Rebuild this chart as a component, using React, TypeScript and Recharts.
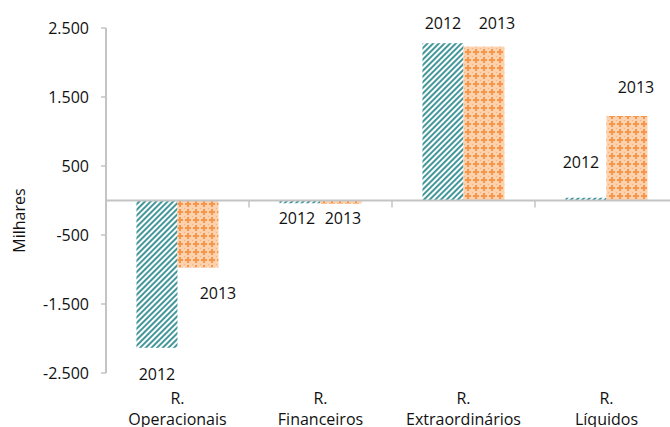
import React from 'react';
import { BarChart, Bar, XAxis, YAxis, ReferenceLine } from 'recharts';

const categories = ['R. Operacionais', 'R. Financeiros', 'R. Extraordinários', 'R. Líquidos'];
const values2012 = [-2135, -40, 2280, 40];
const values2013 = [-970, -45, 2230, 1225];
const seriesNames = ['2012', '2013'];
const yTicks = [-2500, -1500, -500, 500, 1500, 2500];

// label placement tweaks (px), relative to the end of each bar
const labelDx2012 = [0, -3, 0, -5];
const labelDy2012 = [26, 15, -20, -36];
const labelDx2013 = [20, 2, 13, 9];
const labelDy2013 = [26, 14, -24, -29];

const data = categories.map((c, i) => ({ name: c, y2012: values2012[i], y2013: values2013[i] }));

const FONT = "'Open Sans', sans-serif";
const TEXT = '#111111';
const AXIS = '#c4c4c4';

const fmt = (v: number) => {
  const s = Math.abs(v).toString().replace(/\B(?=(\d{3})+(?!\d))/g, '.');
  return (v < 0 ? '-' : '') + s;
};

const makeShape = (name: string, fill: string, vals: number[], dxs: number[], dys: number[]) => (p: any) => {
  const { x, y, width, height, index } = p;
  const top = Math.min(y, y + height);
  const h = Math.abs(height);
  const v = vals[index];
  const end = v >= 0 ? top : top + h;
  return (
    <g>
      <rect x={x} y={top} width={width} height={h} fill={fill} />
      <text
        x={x + width / 2 + dxs[index]}
        y={end + dys[index]}
        textAnchor="middle"
        dominantBaseline="central"
        fontSize={16}
        fontFamily={FONT}
        fill={TEXT}
      >
        {name}
      </text>
    </g>
  );
};

const CatTick = (p: any) => {
  const { x, y, payload } = p;
  const label: string = payload.value;
  const i = label.indexOf(' ');
  const l1 = label.slice(0, i);
  const l2 = label.slice(i + 1);
  return (
    <text x={x} y={y} textAnchor="middle" fontSize={16} fontFamily={FONT} fill={TEXT}>
      <tspan x={x} dy={23}>{l1}</tspan>
      <tspan x={x} dy={21}>{l2}</tspan>
    </text>
  );
};

const ZeroLine = (p: any) => {
  const { x1, x2, y1 } = p;
  const n = categories.length;
  const step = (x2 - x1) / n;
  const marks = [];
  for (let i = 1; i <= n; i++) {
    const xx = x1 + i * step;
    marks.push(<line key={i} x1={xx} x2={xx} y1={y1} y2={y1 + 7} stroke={AXIS} strokeWidth={1.5} />);
  }
  return (
    <g>
      <line x1={x1} x2={x2} y1={y1} y2={y1} stroke={AXIS} strokeWidth={2} />
      {marks}
    </g>
  );
};

const YLabel = (p: any) => {
  const vb = p.viewBox || {};
  const cx = (vb.x || 0) + 19;
  const cy = (vb.y || 0) + (vb.height || 0) / 2 + 20;
  return (
    <text x={cx} y={cy} transform={`rotate(-90, ${cx}, ${cy})`} textAnchor="middle" dominantBaseline="central" fontSize={16} fontFamily={FONT} fill={TEXT}>
      Milhares
    </text>
  );
};

export default function App() {
  return (
    <div style={{ position: 'absolute', left: 0, top: 0, width: 670, height: 427, overflow: 'hidden', background: '#fff' }}>
      <BarChart
        width={678}
        height={427}
        data={data}
        margin={{ top: 28, right: 0, bottom: 0, left: 0 }}
        barCategoryGap="21.3%"
        barGap={0}
        style={{ fontFamily: FONT }}
      >
        <defs>
          <pattern id="teal" width="4" height="4" patternUnits="userSpaceOnUse" patternTransform="rotate(45)">
            <rect width="4" height="4" fill="#ffffff" />
            <rect x="0" y="0" width="2" height="4" fill="#43979a" />
          </pattern>
          <pattern id="orange" width="8" height="8" patternUnits="userSpaceOnUse">
            <rect width="8" height="8" fill="#fcd2ae" />
            <rect x="1" y="3" width="6" height="2" fill="#f7954a" />
            <rect x="3" y="1" width="2" height="6" fill="#f7954a" />
            <rect x="0" y="0" width="1" height="1" fill="#f9b07a" />
          </pattern>
        </defs>
        <XAxis
          dataKey="name"
          axisLine={false}
          tickLine={false}
          height={54}
          interval={0}
          tick={<CatTick />}
        />
        <YAxis
          type="number"
          domain={[-2500, 2500]}
          ticks={yTicks}
          interval={0}
          width={106}
          tickFormatter={fmt}
          axisLine={{ stroke: AXIS, strokeWidth: 2 }}
          tickLine={{ stroke: AXIS, strokeWidth: 1.5 }}
          tickSize={5}
          tickMargin={12}
          tick={{ fontSize: 16, fill: TEXT, fontFamily: FONT }}
          label={<YLabel />}
        />
        <Bar
          dataKey="y2012"
          isAnimationActive={false}
          fill="url(#teal)"
          shape={makeShape(seriesNames[0], 'url(#teal)', values2012, labelDx2012, labelDy2012)}
        />
        <Bar
          dataKey="y2013"
          isAnimationActive={false}
          fill="url(#orange)"
          shape={makeShape(seriesNames[1], 'url(#orange)', values2013, labelDx2013, labelDy2013)}
        />
        <ReferenceLine y={0} shape={<ZeroLine />} />
      </BarChart>
    </div>
  );
}
